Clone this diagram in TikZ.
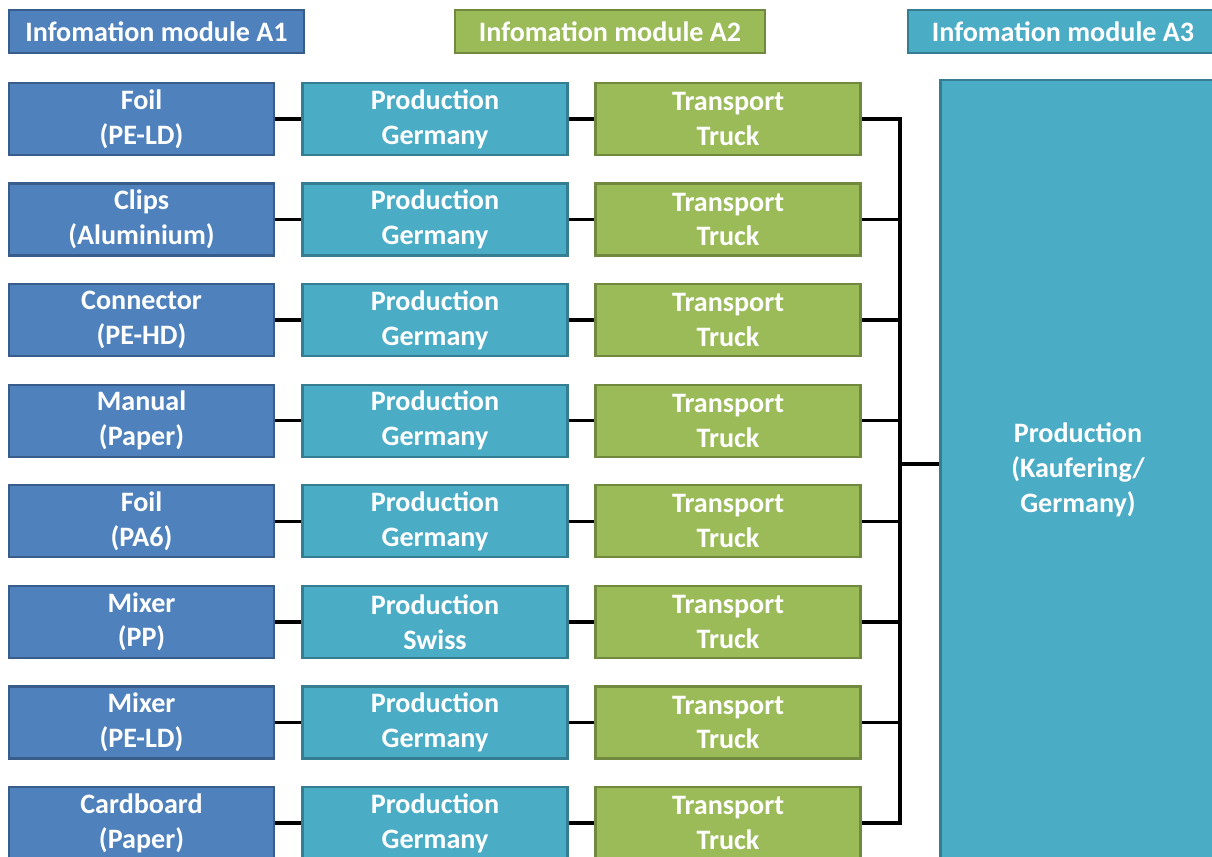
\documentclass[tikz,border=0pt]{standalone}
\usepackage{fontspec}
\setmainfont{Carlito}
\definecolor{bluef}{HTML}{4F81BD}
\definecolor{blued}{HTML}{385D8A}
\definecolor{tealf}{HTML}{4BACC6}
\definecolor{teald}{HTML}{357D91}
\definecolor{greenf}{HTML}{9BBB59}
\definecolor{greend}{HTML}{71893F}
\tikzset{
  box/.style={draw, line width=1.3pt, text=white, align=center,
    font=\fontsize{16}{19.8}\selectfont\bfseries, inner sep=0pt,
    minimum width=5.3cm, minimum height=1.44cm},
  hdr/.style={box, minimum height=0.86cm},
  bluebox/.style={box, fill=bluef, draw=blued},
  tealbox/.style={box, fill=tealf, draw=teald},
  greenbox/.style={box, fill=greenf, draw=greend},
  conn/.style={line width=2pt, black},
}
\begin{document}
\begin{tikzpicture}[x=0.02cm, y=-0.02cm]
\useasboundingbox (0,0) rectangle (1212,857);
\clip (0,0) rectangle (1212,857);
% headers
\node[hdr, fill=bluef, draw=blued, minimum width=5.9cm] (h1) at (156.5,31.5) {Infomation module A1};
\node[hdr, fill=greenf, draw=greend, minimum width=6.2cm] (h2) at (610,31.5) {Infomation module A2};
\node[hdr, fill=tealf, draw=teald, minimum width=6.2cm] (h3) at (1063,31.5) {Infomation module A3};
% big box
\node[box, fill=tealf, draw=teald, minimum width=5.5cm, minimum height=15.6cm] (big) at (1078,470) {Production\\(Kaufering/\\Germany)};
% rows
\foreach \i/\a/\b/\p in {1/Foil/(PE-LD)/Germany, 2/Clips/(Aluminium)/Germany, 3/Connector/(PE-HD)/Germany, 4/Manual/(Paper)/Germany, 5/Foil/(PA6)/Germany, 6/Mixer/(PP)/Swiss, 7/Mixer/(PE-LD)/Germany, 8/Cardboard/(Paper)/Germany}{
  \pgfmathsetmacro{\yy}{119+100.57*(\i-1)}
  \node[bluebox] (m\i) at (141.5,\yy) {\a\\\b};
  \node[tealbox] (p\i) at (435,\yy) {Production\\\p};
  \node[greenbox] (t\i) at (728,\yy) {Transport\\Truck};
  \draw[conn] (m\i) -- (p\i);
  \draw[conn] (p\i) -- (t\i);
}
\coordinate (bus) at (900,464);
\foreach \i in {1,...,8}{
  \draw[conn] (t\i.east) -- (t\i.east -| bus);
}
\draw[conn, line cap=rect] (t1.east -| bus) -- (t8.east -| bus);
\draw[conn] (bus) -- (bus -| big.west);
\end{tikzpicture}
\end{document}
